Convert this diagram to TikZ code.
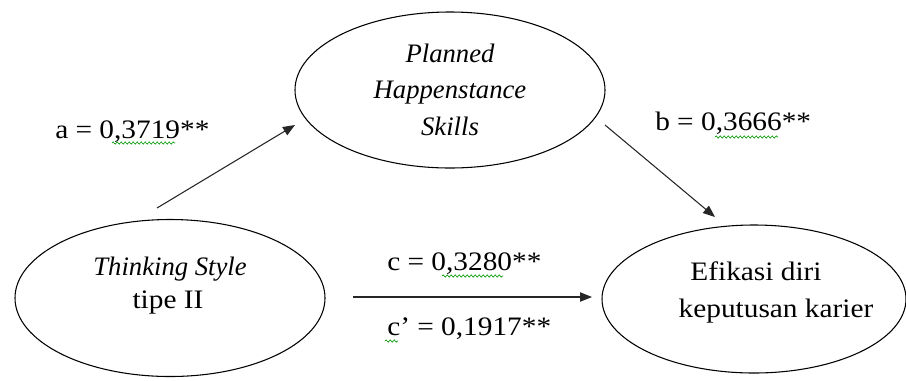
\documentclass[tikz,border=0pt]{standalone}
\usepackage{fontspec}
\setmainfont{Liberation Serif}[UprightFeatures={FakeStretch=1.1}]
\usetikzlibrary{shapes.geometric,arrows.meta,decorations.pathmorphing}
\begin{document}
\begin{tikzpicture}[x=0.75pt,y=-0.75pt,
  oval/.style={ellipse,draw,line width=0.8pt,inner sep=0pt},
  txt/.style={font=\fontsize{20}{24}\selectfont,inner sep=0pt,anchor=base},
  lbl/.style={font=\fontsize{20}{24}\selectfont,inner sep=0pt,anchor=base west},
  conn/.style={line width=0.8pt,draw=black!85,-{Triangle[length=9pt,width=7pt]}},
  wavy/.style={draw=green!60!black,line width=0.5pt,decorate,decoration={snake,amplitude=0.8pt,segment length=3pt}}]
\useasboundingbox (0,0) rectangle (906,380);
% ellipses
\node[oval,minimum width=232.5pt,minimum height=117pt] (P) at (450,90) {};
\node[oval,minimum width=232.5pt,minimum height=117.75pt] (L) at (170,298) {};
\node[oval,minimum width=228pt,minimum height=111pt] (R) at (754,299) {};
% texts inside
\node[txt] (P1) at (450,62) {\itshape Planned};
\node[txt] (P2) at (450,98) {\itshape Happenstance};
\node[txt] (P3) at (450,135) {\itshape Skills};
\node[txt] (L1) at (170,275) {\itshape Thinking Style};
\node[txt] (L2) at (168,308) {tipe II};
\node[txt] (R1) at (756,280) {Efikasi diri};
\node[txt] (R2) at (776,317) {keputusan karier};
% connectors
\coordinate (a0) at (157,208);
\coordinate (a1) at (295,125);
\coordinate (b0) at (605,125);
\coordinate (b1) at (715,217);
\coordinate (c0) at (353,297);
\coordinate (c1) at (592,297);
\draw[conn] (a0) -- (a1);
\draw[conn] (b0) -- (b1);
\draw[conn] (c0) -- (c1);
% labels
\node[lbl] (la) at (55,138) {a = 0,3719**};
\node[lbl] (lb) at (655,130) {b = 0,3666**};
\node[lbl] (lc) at (387,270) {c = 0,3280**};
\node[lbl] (lcp) at (387,335) {c’ = 0,1917**};
% spell-check underlines
\draw[wavy] (112,143) -- (175,143);
\draw[wavy] (715,137) -- (778,137);
\draw[wavy] (442,276) -- (503,276);
\draw[wavy] (385,341) -- (398,341);
\end{tikzpicture}
\end{document}
